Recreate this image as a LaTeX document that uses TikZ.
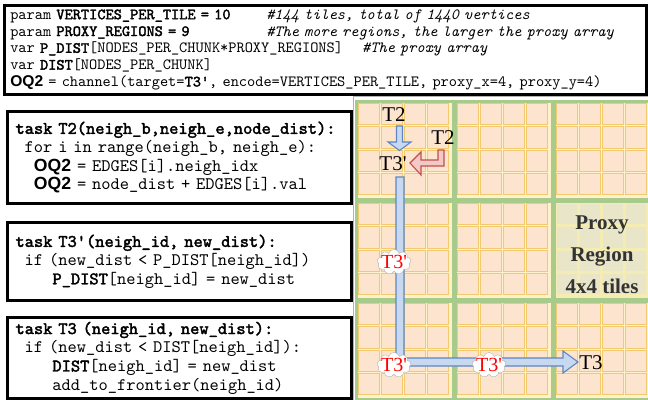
\documentclass[tikz,border=0pt]{standalone}
\usepackage{fontspec}
\setmainfont{Liberation Serif}
\setsansfont{Liberation Sans}
\setmonofont{lmmono10-regular.otf}[ItalicFont=lmmono10-italic.otf]
\usetikzlibrary{shapes, shapes.symbols, calc, positioning}

\definecolor{tilefill}{HTML}{FDE4CF}
\definecolor{tileline}{HTML}{F2C96E}
\definecolor{regionbg}{HTML}{FFF2CA}
\definecolor{regionline}{HTML}{A8CA8B}
\definecolor{proxyfill}{HTML}{E9E5C8}
\definecolor{proxyline}{HTML}{F4ECB2}
\definecolor{arrowblue}{HTML}{C6D9F1}
\definecolor{edgeblue}{HTML}{5F86C4}
\definecolor{arrowred}{HTML}{F3C8C7}
\definecolor{edgered}{HTML}{C0504D}

\newcommand{\cb}[1]{{\addfontfeatures{FakeBold=2.2}#1}}
\newcommand{\oq}{{\sffamily\bfseries OQ2}}
\newcommand{\ind}[1]{\hspace*{\dimexpr#1em*525/1000\relax}}
\newcommand{\upto}[2]{\makebox[#1pt][l]{#2}}
\frenchspacing

\begin{document}
\begin{tikzpicture}[x=1pt, y=-1pt,
  codebox/.style = {draw, line width=2.5pt, anchor=north west, align=left, text width=630pt, inner xsep=6pt, font=\ttfamily\fontsize{15.6}{16.8}\selectfont},
  taskbox/.style = {draw, line width=3pt, anchor=north west, align=left, text width=328pt, inner xsep=8pt, font=\ttfamily\fontsize{17.6}{18.7}\selectfont},
  region/.style = {draw=regionline, line width=2.5pt, fill=regionbg},
  tile/.style = {fill=tilefill, draw=tileline, line width=0.9pt},
  ptile/.style = {fill=proxyfill, draw=proxyline, line width=0.9pt},
  blockblue/.style = {fill=arrowblue, draw=edgeblue, line width=1.1pt, line join=miter},
  blockred/.style = {fill=arrowred, draw=edgered, line width=1.1pt, line join=miter},
  lbl/.style = {inner sep=0pt, font=\fontsize{21}{21}\selectfont},
  tag/.style = {cloud, cloud puffs=9, aspect=1.7, inner sep=-2pt, fill=white, draw=gray!60, line width=0.4pt, text=red, font=\fontsize{20}{20}\selectfont},
  proxytxt/.style = {align=center, text=black!80, font=\bfseries\fontsize{21}{32}\selectfont}]
\useasboundingbox (0,0) rectangle (648,399);

\node[codebox, minimum height=89pt] (params) at (3,4) {%
\upto{256}{param \cb{VERTICES\_PER\_TILE = 10}}\textit{\#144 tiles, total of 1440 vertices}\\
\upto{256}{param \cb{PROXY\_REGIONS = 9}}\textit{\#The more regions, the larger the proxy array}\\
\upto{352}{var \cb{P\_DIST}[NODES\_PER\_CHUNK*PROXY\_REGIONS]}\textit{\#The proxy array}\\
var \cb{DIST}[NODES\_PER\_CHUNK]\\
\oq{} = channel(target=\cb{T3\textquotesingle}, encode=VERTICES\_PER\_TILE, proxy\_x=4, proxy\_y=4)};

\node[taskbox, minimum height=92pt] (t2box) at (6,110) {%
\cb{task~T2(neigh\_b,neigh\_e,node\_dist):}\\
\ind{1}for i in range(neigh\_b, neigh\_e):\\
\ind{2}\oq{} = EDGES[i].neigh\_idx\\
\ind{2}\oq{} = node\_dist + EDGES[i].val};
\node[taskbox, minimum height=78pt] (t3pbox) at (6,221) {%
\cb{task~T3\textquotesingle(neigh\_id,~new\_dist):}\\
\ind{1}if (new\_dist < P\_DIST[neigh\_id])\\
\ind{4}\cb{P\_DIST}[neigh\_id] = new\_dist};
\node[taskbox, minimum height=81pt] (t3box) at (6,316) {%
\cb{task~T3~(neigh\_id,~new\_dist):}\\
\ind{1}if (new\_dist < DIST[neigh\_id]):\\
\ind{4}\cb{DIST}[neigh\_id] = new\_dist\\
\ind{4}add\_to\_frontier(neigh\_id)};

\begin{scope}
\clip (353,96) rectangle (648,399);
\draw[gray!60, line width=1pt] (353.5,96.5) rectangle (660,410);
\foreach \i in {0,1,2}{
  \foreach \j in {0,1,2}{
    \pgfmathsetmacro{\xa}{355+99*\i}
    \pgfmathsetmacro{\ya}{100+100*\j}
    \draw[region] ({\xa+1.25},{\ya+1.25}) rectangle ({\xa+97.75},{\ya+98.75});
    \foreach \k in {0,...,3}{
      \foreach \l in {0,...,3}{
        \draw[tile] ({\xa+3.5+23*\k},{\ya+3.5+23.25*\l}) rectangle +(21,21.25);
      }
    }
  }
}
\draw[region, fill=proxyline] (554.25,201.25) rectangle (650.75,298.75);
\foreach \k in {0,...,3}{
  \foreach \l in {0,...,3}{
    \draw[ptile] ({556.5+23*\k},{203.5+23.25*\l}) rectangle +(21,21.25);
  }
}
\end{scope}

\node[proxytxt] (proxy) at (602,255) {Proxy\\Region\\4x4 tiles};

\draw[blockblue] (396.5,126) -- (402.5,126) -- (402.5,142) -- (411,142) -- (399.5,150.5) -- (388,142) -- (396.5,142) -- cycle;
\draw[blockred] (438,150) -- (444,150) -- (444,166) -- (421,166) -- (421,175) -- (410,163) -- (421,152) -- (421,160) -- (438,160) -- cycle;
\draw[blockblue] (396,177) -- (404,177) -- (404,358) -- (563,358) -- (563,351) -- (578,362) -- (563,373) -- (563,366) -- (396,366) -- cycle;

\node[lbl] (t2a) at (394,115) {T2};
\node[lbl] (t2b) at (443,138) {T2};
\node[lbl] (t3p) at (393,164) {T3\textquotesingle};
\node[lbl] (t3) at (591,363) {T3};

\node[tag] (c1) at (394,262) {T3\textquotesingle};
\node[tag] (c2) at (394,365) {T3\textquotesingle};
\node[tag] (c3) at (489,365) {T3\textquotesingle};
\end{tikzpicture}
\end{document}
